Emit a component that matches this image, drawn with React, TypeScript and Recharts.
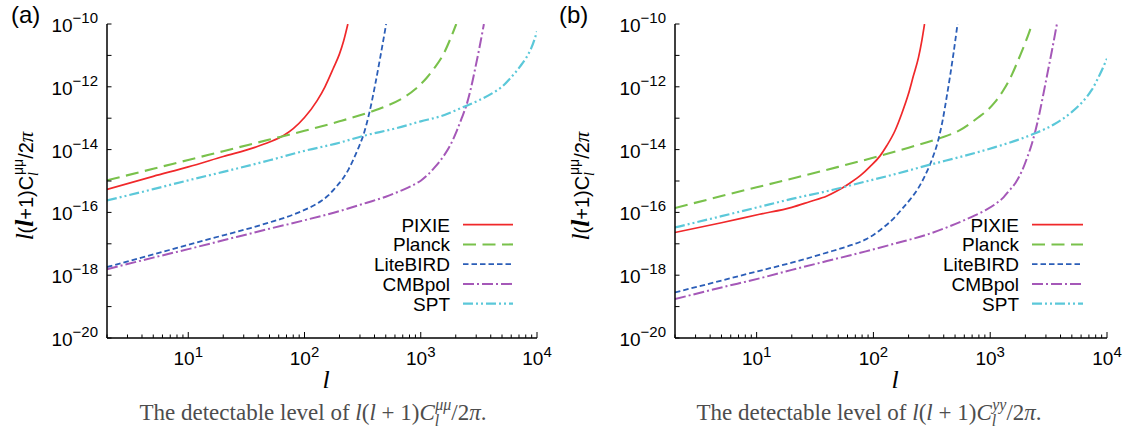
import React from 'react';
import { LineChart, Line, XAxis, YAxis, Legend } from 'recharts';

// ---------- axis ticks ----------
const L_TICKS = [2, 3, 4, 5, 6, 7, 8, 9, 10, 20, 30, 40, 50, 60, 70, 80, 90, 100, 200, 300, 400, 500, 600, 700, 800, 900, 1000, 2000, 3000, 4000, 5000, 6000, 7000, 8000, 9000, 10000];
const X_MAJOR = [10, 100, 1000, 10000];
const X_LABELS = ['1', '2', '3', '4'];
const V_TICKS = [1e-20, 1e-19, 1e-18, 1e-17, 1e-16, 1e-15, 1e-14, 1e-13, 1e-12, 1e-11, 1e-10];
const Y_MAJOR = [1e-20, 1e-18, 1e-16, 1e-14, 1e-12, 1e-10];
const Y_LABELS = ['\u221220', '\u221218', '\u221216', '\u221214', '\u221212', '\u221210'];

// ---------- series ----------
const SERIES_NAMES = ['PIXIE', 'Planck', 'LiteBIRD', 'CMBpol', 'SPT'];
const SERIES_COLORS = ['#f0282a', '#79c14b', '#2b5eb8', '#a558b8', '#5bc8d9'];
const SERIES_DASH = ['', '13 6.5', '5.5 3', '11 3 2 3', '10 3 2 3 2 3'];
const SERIES_WIDTH = [1.7, 2.1, 1.8, 2, 2.2];

// panel (a): l(l+1)C_l^{mu mu}/2pi
const L_PIXIE_A = [2, 5, 10, 20, 38, 50, 66, 80, 100, 128, 150, 178, 200, 217, 236];
const V_PIXIE_A = [5.37e-16, 1.41e-15, 2.82e-15, 6.03e-15, 1.2e-14, 1.74e-14, 2.82e-14, 4.68e-14, 1.05e-13, 3.55e-13, 1e-12, 4.07e-12, 1.12e-11, 2.88e-11, 1e-10];

const L_PLANCK_A = [2, 5, 10, 20, 50, 100, 200, 367, 500, 700, 900, 1127, 1300, 1563, 1800, 2020];
const V_PLANCK_A = [1.05e-15, 2.45e-15, 4.68e-15, 8.91e-15, 2.09e-14, 3.98e-14, 7.94e-14, 1.58e-13, 2.4e-13, 4.37e-13, 8.51e-13, 1.95e-12, 3.8e-12, 1.07e-11, 3.39e-11, 1e-10];

const L_LITEBIRD_A = [2, 5, 10, 20, 35, 50, 65, 80, 100, 120, 140, 160, 180, 200, 217, 240, 260, 290, 322, 360, 406, 450, 504];
const V_LITEBIRD_A = [1.82e-18, 4.57e-18, 9.33e-18, 1.86e-17, 3.24e-17, 4.79e-17, 6.46e-17, 8.51e-17, 1.2e-16, 1.66e-16, 2.34e-16, 3.47e-16, 5.5e-16, 8.71e-16, 1.29e-15, 2.4e-15, 4.37e-15, 1.1e-14, 3.02e-14, 1.41e-13, 1.2e-12, 9.33e-12, 1e-10];

const L_CMBPOL_A = [2, 5, 10, 20, 50, 95, 200, 344, 500, 664, 850, 1000, 1150, 1300, 1563, 1800, 2037, 2250, 2484, 2700, 2927, 3200, 3494];
const V_CMBPOL_A = [1.55e-18, 3.63e-18, 6.76e-18, 1.29e-17, 3.02e-17, 5.37e-17, 1.1e-16, 2.04e-16, 3.16e-16, 4.79e-16, 7.24e-16, 1.02e-15, 1.58e-15, 2.57e-15, 6.03e-15, 1.41e-14, 3.89e-14, 1e-13, 2.75e-13, 8.91e-13, 3.55e-12, 1.78e-11, 1e-10];

const L_SPT_A = [2, 5, 10, 20, 50, 100, 200, 322, 600, 1000, 1500, 2000, 2484, 3200, 4196, 5000, 5845, 6500, 7160, 8000, 8850, 9500, 10000];
const V_SPT_A = [2.4e-16, 5.5e-16, 1.05e-15, 1.95e-15, 4.57e-15, 9.12e-15, 1.66e-14, 2.75e-14, 4.68e-14, 7.94e-14, 1.17e-13, 1.78e-13, 2.51e-13, 3.8e-13, 6.46e-13, 1e-12, 1.82e-12, 2.82e-12, 4.47e-12, 7.94e-12, 1.58e-11, 3.16e-11, 5.89e-11];

// panel (b): l(l+1)C_l^{yy}/2pi
const L_PIXIE_B = [2, 5, 10.6, 20, 28.4, 40, 48.2, 62.7, 79.4, 93, 114, 130, 153, 175, 199, 220, 243, 260, 274];
const V_PIXIE_B = [2.29e-17, 4.68e-17, 8.71e-17, 1.45e-16, 2.19e-16, 3.31e-16, 4.68e-16, 8.51e-16, 1.62e-15, 2.82e-15, 6.31e-15, 1.32e-14, 3.98e-14, 1.41e-13, 5.75e-13, 2.24e-12, 8.51e-12, 3.02e-11, 1e-10];

const L_PLANCK_B = [2, 5, 10, 21.9, 50, 114, 200, 360, 550, 794, 950, 1102, 1300, 1531, 1750, 1995, 2140, 2275];
const V_PLANCK_B = [1.38e-16, 3.31e-16, 6.31e-16, 1.29e-15, 2.82e-15, 6.31e-15, 1.15e-14, 2.24e-14, 4.17e-14, 1.07e-13, 1.82e-13, 3.31e-13, 7.94e-13, 2.4e-12, 7.59e-12, 2.51e-11, 5.01e-11, 1e-10];

const L_LITEBIRD_B = [2, 5, 10.6, 20, 40, 60, 86, 100, 118, 150, 175, 210, 243, 277, 316, 360, 390, 425, 455, 485, 525];
const V_LITEBIRD_B = [2.82e-19, 6.76e-19, 1.38e-18, 2.51e-18, 5.25e-18, 8.32e-18, 1.38e-17, 1.91e-17, 3.02e-17, 6.61e-17, 1.26e-16, 2.82e-16, 6.03e-16, 1.51e-15, 4.68e-15, 2.09e-14, 7.94e-14, 5.01e-13, 2.4e-12, 1.17e-11, 1e-10];

const L_CMBPOL_B = [2, 5, 10.6, 20, 40, 86, 150, 296, 450, 695, 900, 1102, 1300, 1436, 1640, 1850, 2061, 2250, 2427, 2650, 2864, 3100, 3375, 3724];
const V_CMBPOL_B = [1.74e-19, 4.07e-19, 7.94e-19, 1.48e-18, 2.82e-18, 5.75e-18, 1e-17, 2.04e-17, 3.63e-17, 7.24e-17, 1.15e-16, 1.82e-16, 3.02e-16, 4.68e-16, 8.51e-16, 1.91e-15, 5.25e-15, 1.35e-14, 3.72e-14, 1.51e-13, 6.31e-13, 2.82e-12, 1.41e-11, 1e-10];

const L_SPT_B = [2, 5, 10.6, 20, 45, 85, 150, 305, 600, 1102, 1700, 2427, 3500, 5010, 6200, 7400, 8700, 10000];
const V_SPT_B = [3.31e-17, 7.59e-17, 1.51e-16, 2.69e-16, 5.25e-16, 9.55e-16, 1.62e-15, 3.31e-15, 6.31e-15, 1.2e-14, 2e-14, 3.31e-14, 6.31e-14, 1.58e-13, 3.39e-13, 7.94e-13, 2.51e-12, 7.94e-12];

const zip = (ls: number[], vs: number[]) => ls.map((l, i) => ({ l, v: vs[i] }));

const PANEL_A = [
  zip(L_PIXIE_A, V_PIXIE_A),
  zip(L_PLANCK_A, V_PLANCK_A),
  zip(L_LITEBIRD_A, V_LITEBIRD_A),
  zip(L_CMBPOL_A, V_CMBPOL_A),
  zip(L_SPT_A, V_SPT_A),
];
const PANEL_B = [
  zip(L_PIXIE_B, V_PIXIE_B),
  zip(L_PLANCK_B, V_PLANCK_B),
  zip(L_LITEBIRD_B, V_LITEBIRD_B),
  zip(L_CMBPOL_B, V_CMBPOL_B),
  zip(L_SPT_B, V_SPT_B),
];

const SANS = '"Liberation Sans", Arial, Helvetica, sans-serif';
const SERIF = '"Liberation Serif", "Times New Roman", serif';
const FS = 19;
const FS_SUP = 15;

const BottomTick = (props: any) => {
  const { x, y, payload } = props;
  const idx = X_MAJOR.indexOf(payload.value);
  const major = idx >= 0;
  return (
    <g>
      <line x1={x} y1={y} x2={x} y2={y - (major ? 6 : 3.5)} stroke="#000" strokeWidth={1} />
      {major && (
        <text x={x} y={y + 27} textAnchor="middle" fontSize={FS} fontFamily={SANS} fill="#000">
          <tspan>10</tspan>
          <tspan dy={-8} fontSize={FS_SUP}>{X_LABELS[idx]}</tspan>
        </text>
      )}
    </g>
  );
};

const TopTick = (props: any) => {
  const { x, y, payload } = props;
  const major = X_MAJOR.indexOf(payload.value) >= 0;
  return <line x1={x} y1={y} x2={x} y2={y + (major ? 6 : 3.5)} stroke="#000" strokeWidth={1} />;
};

const LeftTick = (props: any) => {
  const { x, y, payload } = props;
  const idx = Y_MAJOR.indexOf(payload.value);
  return (
    <g>
      <line x1={x} y1={y} x2={x + 4.5} y2={y} stroke="#000" strokeWidth={1} />
      {idx >= 0 && (
        <text x={x - 9} y={y + 8} textAnchor="end" fontSize={FS} fontFamily={SANS} fill="#000">
          <tspan>10</tspan>
          <tspan dy={-9} fontSize={FS_SUP}>{Y_LABELS[idx]}</tspan>
        </text>
      )}
    </g>
  );
};

const RightTick = (props: any) => {
  const { x, y } = props;
  return <line x1={x} y1={y} x2={x - 4.5} y2={y} stroke="#000" strokeWidth={1} />;
};

const LegendBox = ({ textX, lineX1, lineX2 }: { textX: number; lineX1: number; lineX2: number }) => (
  <svg width={180} height={110} style={{ display: 'block', overflow: 'visible' }}>
    {SERIES_NAMES.map((n, i) => {
      const cy = 12.7 + i * 19.75;
      return (
        <g key={n}>
          <text x={textX} y={cy + 7} textAnchor="end" fontSize={FS} fontFamily={SANS} fill="#000">
            {n}
          </text>
          <line
            x1={lineX1}
            x2={lineX2}
            y1={cy}
            y2={cy}
            stroke={SERIES_COLORS[i]}
            strokeWidth={SERIES_WIDTH[i]}
            strokeDasharray={SERIES_DASH[i] || undefined}
          />
        </g>
      );
    })}
  </svg>
);

const AXIS_LINE = { stroke: '#000', strokeWidth: 1.5 };

const Panel = ({
  series,
  width,
  yAxisWidth,
  rightMargin,
  legendLeft,
  legendText,
  legendL1,
  legendL2,
}: {
  series: { l: number; v: number }[][];
  width: number;
  yAxisWidth: number;
  rightMargin: number;
  legendLeft: number;
  legendText: number;
  legendL1: number;
  legendL2: number;
}) => (
  <LineChart width={width} height={432} margin={{ top: 24, right: rightMargin, bottom: 0, left: 0 }}>
    <XAxis
      xAxisId="b"
      dataKey="l"
      type="number"
      scale="log"
      domain={[2, 10000]}
      allowDataOverflow
      ticks={L_TICKS}
      interval={0}
      tickLine={false}
      tickSize={0}
      tickMargin={0}
      height={94}
      axisLine={AXIS_LINE}
      tick={<BottomTick />}
    />
    <XAxis
      xAxisId="t"
      orientation="top"
      dataKey="l"
      type="number"
      scale="log"
      domain={[2, 10000]}
      allowDataOverflow
      ticks={L_TICKS}
      interval={0}
      tickLine={false}
      tickSize={0}
      tickMargin={0}
      height={0}
      axisLine={AXIS_LINE}
      tick={<TopTick />}
    />
    <YAxis
      yAxisId="l"
      dataKey="v"
      type="number"
      scale="log"
      domain={[1e-20, 1e-10]}
      allowDataOverflow
      ticks={V_TICKS}
      interval={0}
      tickLine={false}
      tickSize={0}
      tickMargin={0}
      width={yAxisWidth}
      axisLine={AXIS_LINE}
      tick={<LeftTick />}
    />
    <YAxis
      yAxisId="r"
      orientation="right"
      dataKey="v"
      type="number"
      scale="log"
      domain={[1e-20, 1e-10]}
      allowDataOverflow
      ticks={V_TICKS}
      interval={0}
      tickLine={false}
      tickSize={0}
      tickMargin={0}
      width={0}
      axisLine={AXIS_LINE}
      tick={<RightTick />}
    />
    {series.map((d, i) => (
      <Line
        key={SERIES_NAMES[i]}
        name={SERIES_NAMES[i]}
        xAxisId="b"
        yAxisId="l"
        data={d}
        dataKey="v"
        type="monotone"
        stroke={SERIES_COLORS[i]}
        strokeWidth={SERIES_WIDTH[i]}
        strokeDasharray={SERIES_DASH[i] || undefined}
        dot={false}
        activeDot={false}
        isAnimationActive={false}
      />
    ))}
    <Legend
      layout="vertical"
      align="center"
      verticalAlign="middle"
      wrapperStyle={{ position: 'absolute', left: legendLeft, top: 212, width: 180, height: 110 }}
      content={() => <LegendBox textX={legendText} lineX1={legendL1} lineX2={legendL2} />}
    />
  </LineChart>
);

const YTitle = ({ x, y }: { x: number; y: number }) => (
  <text transform={`rotate(-90 ${x} ${y})`} x={x} y={y} textAnchor="middle" fontSize={20} fontFamily={SANS} fill="#000">
    <tspan fontFamily={SERIF} fontStyle="italic" fontSize={25}>l</tspan>
    <tspan>(</tspan>
    <tspan fontFamily={SERIF} fontStyle="italic" fontWeight="bold" fontSize={25}>l</tspan>
    <tspan>+1)C</tspan>
    <tspan fontSize={14} dy={5} fontFamily={SERIF} fontStyle="italic">l</tspan>
    <tspan fontSize={14} dy={-15} dx={-3}>μμ</tspan>
    <tspan dy={10}>/2</tspan>
    <tspan fontFamily={SERIF} fontStyle="italic" fontSize={21}>π</tspan>
  </text>
);

const Caption = ({ x, sup }: { x: number; sup: string }) => (
  <text x={x} y={420} textAnchor="middle" fontSize={23} fontFamily={SERIF} fill="#4d4d4d">
    <tspan>The detectable level of </tspan>
    <tspan fontStyle="italic">l</tspan>
    <tspan>(</tspan>
    <tspan fontStyle="italic">l</tspan>
    <tspan> + 1)</tspan>
    <tspan fontStyle="italic">C</tspan>
    <tspan fontStyle="italic" fontSize={16} dy={6}>l</tspan>
    <tspan fontStyle="italic" fontSize={16} dy={-16} dx={-4}>{sup}</tspan>
    <tspan dy={10}>/2</tspan>
    <tspan fontStyle="italic">π</tspan>
    <tspan>.</tspan>
  </text>
);

export default function App() {
  return (
    <div style={{ position: 'absolute', left: 0, top: 0, width: 1127, height: 432, background: '#fff', overflow: 'hidden' }}>
      <div style={{ position: 'absolute', left: 0, top: 0 }}>
        <Panel
          series={PANEL_A}
          width={560}
          yAxisWidth={107}
          rightMargin={23}
          legendLeft={350}
          legendText={100}
          legendL1={113}
          legendL2={163}
        />
      </div>
      <div style={{ position: 'absolute', left: 560, top: 0 }}>
        <Panel
          series={PANEL_B}
          width={567}
          yAxisWidth={115}
          rightMargin={20}
          legendLeft={360}
          legendText={99}
          legendL1={112}
          legendL2={163}
        />
      </div>
      <svg width={1127} height={432} style={{ position: 'absolute', left: 0, top: 0, pointerEvents: 'none' }}>
        <text x={11} y={23} fontSize={24} fontFamily={SANS} fill="#000">(a)</text>
        <text x={559} y={23} fontSize={24} fontFamily={SANS} fill="#000">(b)</text>
        <YTitle x={33} y={186} />
        <YTitle x={589} y={186} />
        <text x={326} y={388} textAnchor="middle" fontSize={26} fontFamily={SERIF} fontStyle="italic" fill="#000">l</text>
        <text x={895} y={388} textAnchor="middle" fontSize={26} fontFamily={SERIF} fontStyle="italic" fill="#000">l</text>
        <Caption x={313} sup="μμ" />
        <Caption x={869} sup="yy" />
      </svg>
    </div>
  );
}
